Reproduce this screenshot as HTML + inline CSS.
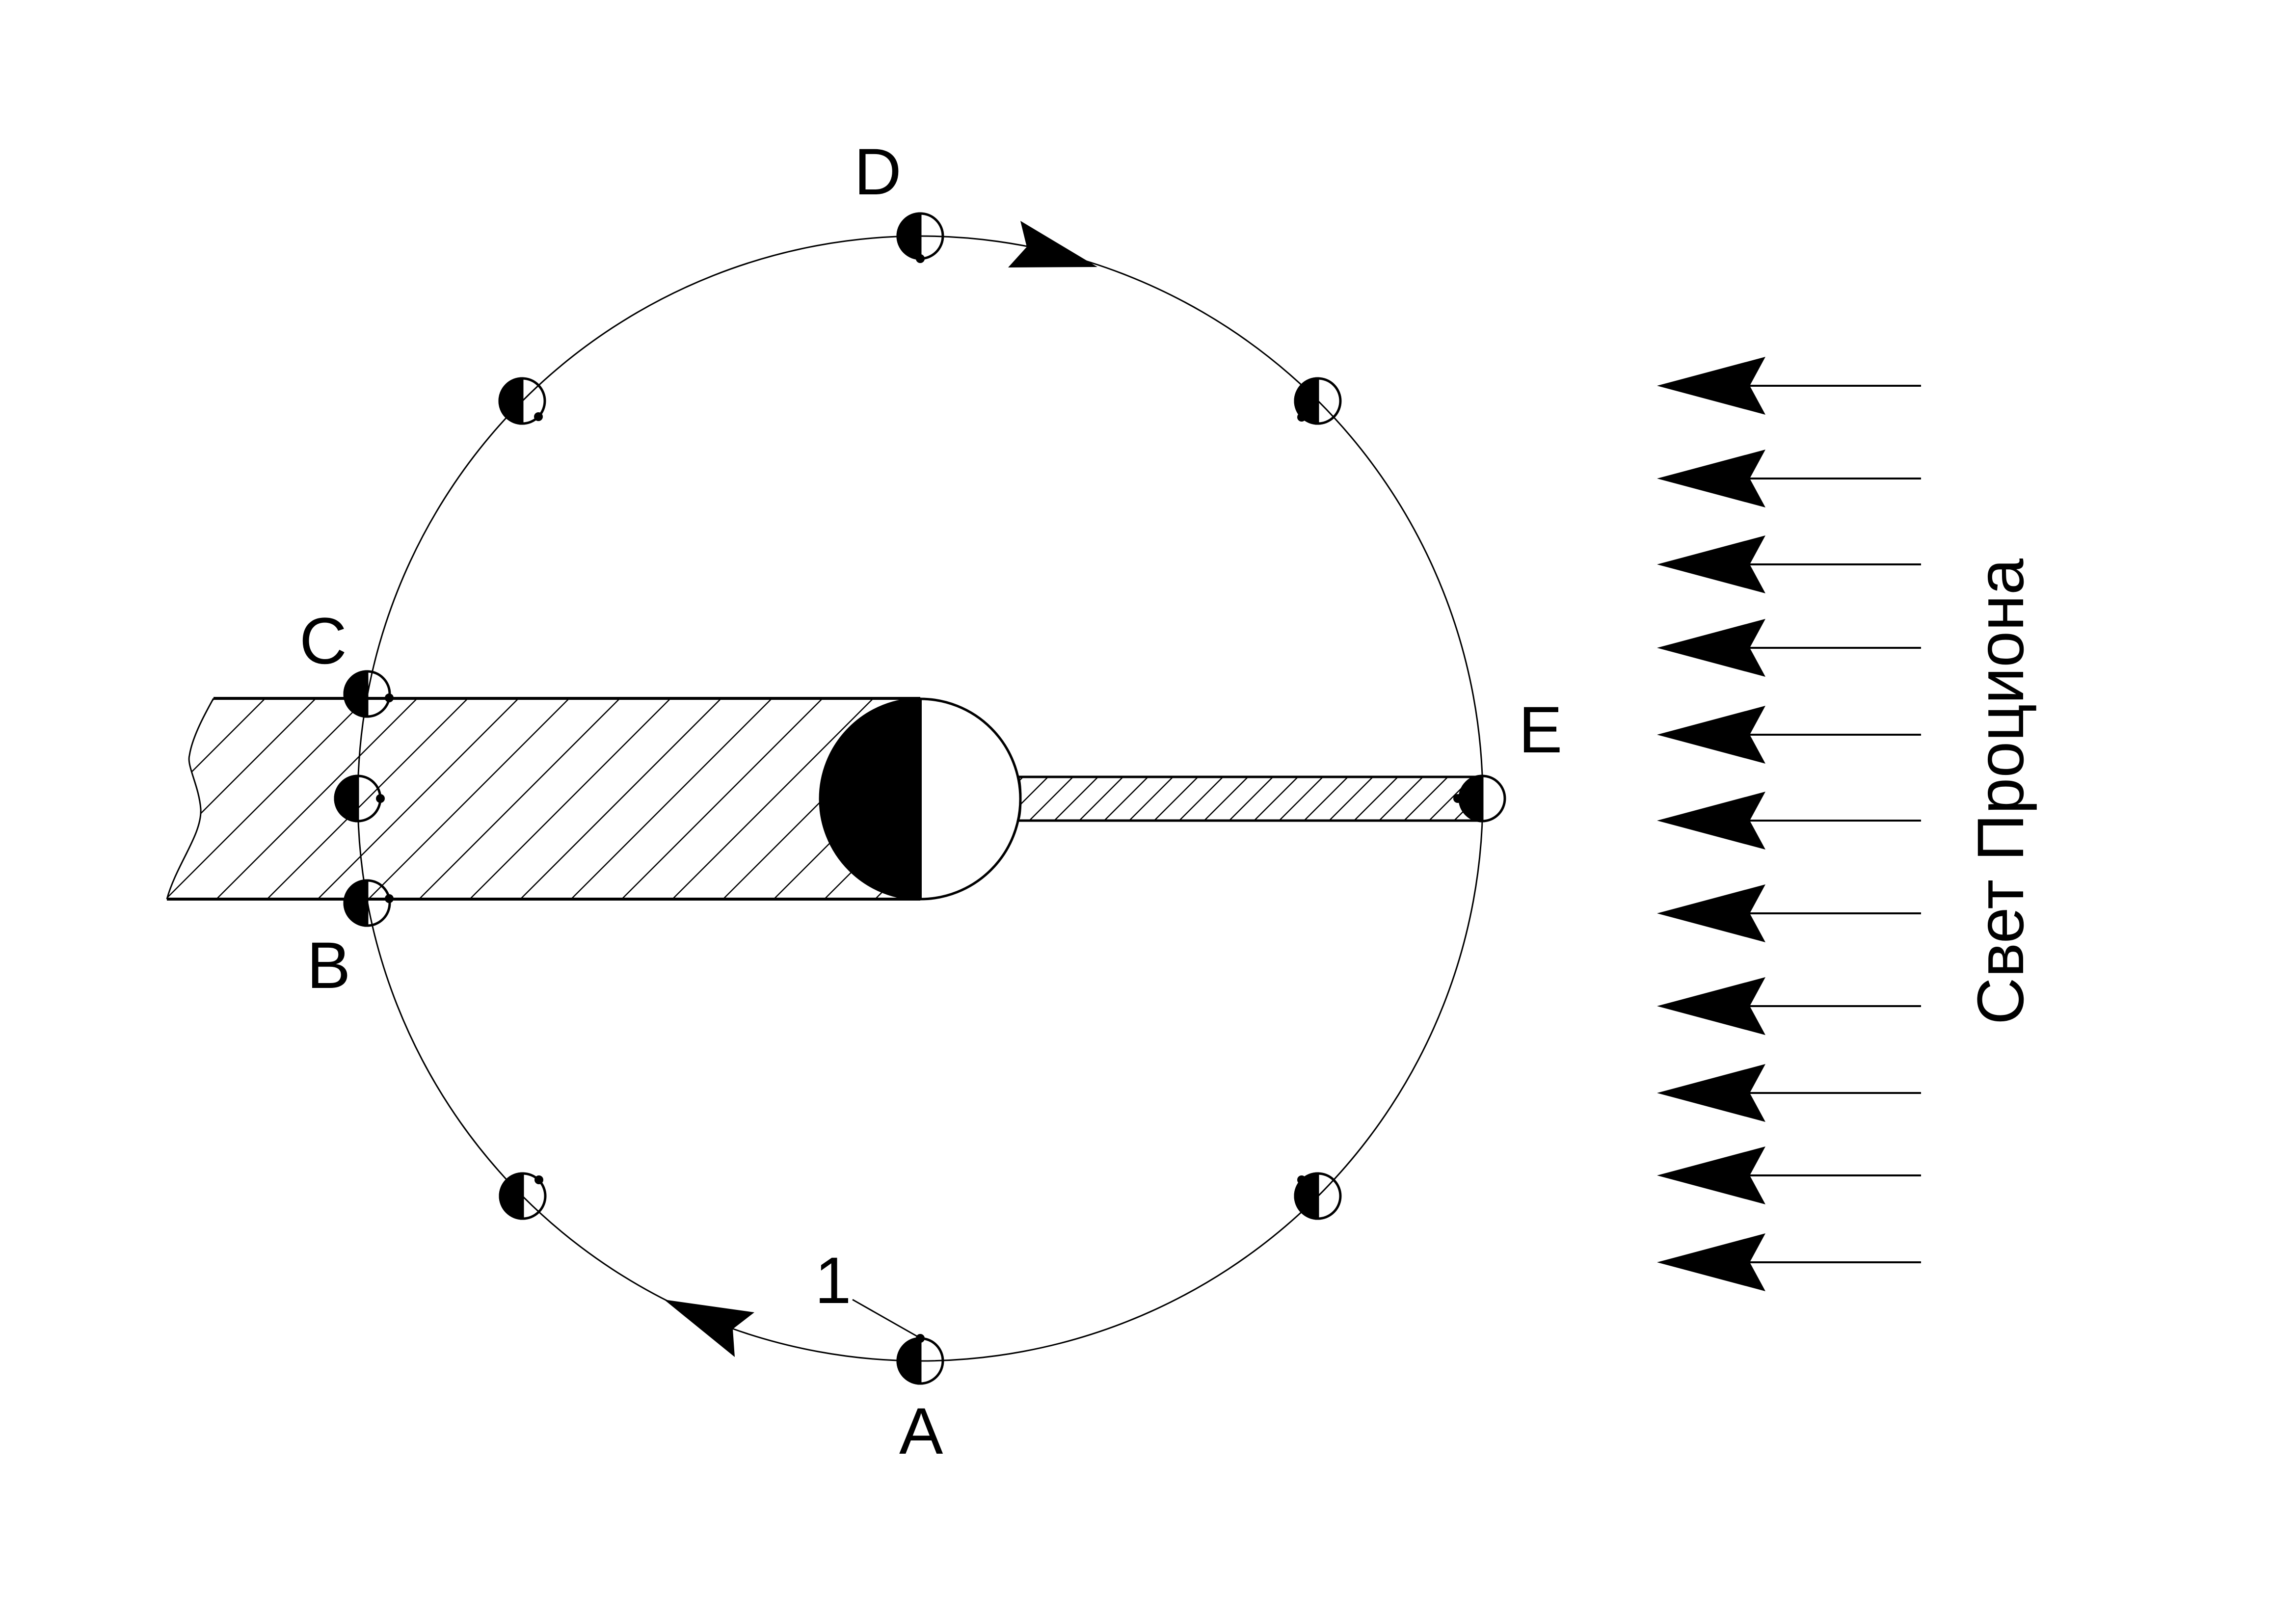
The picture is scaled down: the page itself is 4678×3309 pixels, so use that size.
<!DOCTYPE html>
<html><head><meta charset="utf-8"><style>html,body{margin:0;padding:0;background:#fff}svg{display:block}</style></head>
<body>
<svg width="4678" height="3309" viewBox="0 0 4678 3309" xmlns="http://www.w3.org/2000/svg">
<defs>
<pattern id="h1" patternUnits="userSpaceOnUse" width="73" height="73" patternTransform="rotate(45)">
<line x1="0" y1="0" x2="0" y2="73" stroke="#000" stroke-width="5"/>
</pattern>
<pattern id="h2" patternUnits="userSpaceOnUse" width="36" height="36" patternTransform="rotate(45)">
<line x1="0" y1="0" x2="0" y2="36" stroke="#000" stroke-width="5"/>
</pattern>
</defs>
<rect width="4678" height="3309" fill="#fff"/>
<path d="M435,1423 L1875,1423 L1875,1832 L340,1832 C360,1760 412,1700 409,1648 C405,1600 380,1560 386,1539 C392,1500 420,1450 435,1423 Z" fill="url(#h1)"/>
<path d="M435,1423 C420,1450 392,1500 386,1539 C380,1560 405,1600 409,1648 C412,1700 360,1760 340,1832" fill="none" stroke="#000" stroke-width="3"/>
<line x1="435" y1="1423" x2="1875" y2="1423" stroke="#000" stroke-width="6"/>
<line x1="340" y1="1832" x2="1875" y2="1832" stroke="#000" stroke-width="6"/>
<rect x="2072" y="1583" width="948" height="89" fill="url(#h2)"/>
<line x1="2072" y1="1583" x2="3020" y2="1583" stroke="#000" stroke-width="5"/>
<line x1="2072" y1="1672" x2="3020" y2="1672" stroke="#000" stroke-width="5"/>
<ellipse cx="2074" cy="1627" rx="6" ry="45" fill="none" stroke="#000" stroke-width="3"/>
<circle cx="1875" cy="1627" r="1146" fill="none" stroke="#000" stroke-width="3"/>
<circle cx="1875" cy="1628" r="204" fill="#fff" stroke="#000" stroke-width="5"/>
<path d="M1875,1424 A204,204 0 0 0 1875,1832 Z" fill="#000"/>
<line x1="1875" y1="1424" x2="1875" y2="1832" stroke="#000" stroke-width="6"/>
<g stroke="#000" stroke-width="5">
<g transform="translate(1875,481)"><circle r="46" fill="none"/><path d="M0,-46 A46,46 0 0 0 0,46 Z" fill="#000"/><circle cx="0" cy="46" r="9" fill="#000" stroke="none"/></g>
<g transform="translate(2685,817)"><circle r="46" fill="none"/><path d="M0,-46 A46,46 0 0 0 0,46 Z" fill="#000"/><circle cx="-33" cy="33" r="9" fill="#000" stroke="none"/></g>
<g transform="translate(3020,1627)"><circle r="46" fill="none"/><path d="M0,-46 A46,46 0 0 0 0,46 Z" fill="#000"/><circle cx="-50" cy="0" r="9" fill="#000" stroke="none"/></g>
<g transform="translate(2685,2437)"><circle r="46" fill="none"/><path d="M0,-46 A46,46 0 0 0 0,46 Z" fill="#000"/><circle cx="-33" cy="-33" r="9" fill="#000" stroke="none"/></g>
<g transform="translate(1875,2773)"><circle r="46" fill="none"/><path d="M0,-46 A46,46 0 0 0 0,46 Z" fill="#000"/><circle cx="0" cy="-46" r="9" fill="#000" stroke="none"/></g>
<g transform="translate(1065,2437)"><circle r="46" fill="none"/><path d="M0,-46 A46,46 0 0 0 0,46 Z" fill="#000"/><circle cx="33" cy="-33" r="9" fill="#000" stroke="none"/></g>
<g transform="translate(1064,817)"><circle r="46" fill="none"/><path d="M0,-46 A46,46 0 0 0 0,46 Z" fill="#000"/><circle cx="33" cy="32" r="9" fill="#000" stroke="none"/></g>
<g transform="translate(748,1414)"><circle r="46" fill="none"/><path d="M0,-46 A46,46 0 0 0 0,46 Z" fill="#000"/><circle cx="45" cy="8" r="9" fill="#000" stroke="none"/></g>
<g transform="translate(729,1627)"><circle r="46" fill="none"/><path d="M0,-46 A46,46 0 0 0 0,46 Z" fill="#000"/><circle cx="46" cy="0" r="9" fill="#000" stroke="none"/></g>
<g transform="translate(748,1840)"><circle r="46" fill="none"/><path d="M0,-46 A46,46 0 0 0 0,46 Z" fill="#000"/><circle cx="45" cy="-9" r="9" fill="#000" stroke="none"/></g>
</g>
<polygon points="2236,544 2079,450 2092,503 2054,545" fill="#000"/>
<polygon points="1353,2648 1537,2674 1493,2708 1497,2765" fill="#000"/>
<line x1="1737" y1="2648" x2="1876" y2="2727" stroke="#000" stroke-width="3"/>
<g fill="#000" stroke="#000" stroke-width="4">
<g transform="translate(0,786)"><polygon points="3376,0 3597,-59 3565,0 3597,59" stroke="none"/><line x1="3565" y1="0" x2="3914" y2="0"/></g>
<g transform="translate(0,975)"><polygon points="3376,0 3597,-59 3565,0 3597,59" stroke="none"/><line x1="3565" y1="0" x2="3914" y2="0"/></g>
<g transform="translate(0,1150)"><polygon points="3376,0 3597,-59 3565,0 3597,59" stroke="none"/><line x1="3565" y1="0" x2="3914" y2="0"/></g>
<g transform="translate(0,1320)"><polygon points="3376,0 3597,-59 3565,0 3597,59" stroke="none"/><line x1="3565" y1="0" x2="3914" y2="0"/></g>
<g transform="translate(0,1497)"><polygon points="3376,0 3597,-59 3565,0 3597,59" stroke="none"/><line x1="3565" y1="0" x2="3914" y2="0"/></g>
<g transform="translate(0,1672)"><polygon points="3376,0 3597,-59 3565,0 3597,59" stroke="none"/><line x1="3565" y1="0" x2="3914" y2="0"/></g>
<g transform="translate(0,1861)"><polygon points="3376,0 3597,-59 3565,0 3597,59" stroke="none"/><line x1="3565" y1="0" x2="3914" y2="0"/></g>
<g transform="translate(0,2050)"><polygon points="3376,0 3597,-59 3565,0 3597,59" stroke="none"/><line x1="3565" y1="0" x2="3914" y2="0"/></g>
<g transform="translate(0,2227)"><polygon points="3376,0 3597,-59 3565,0 3597,59" stroke="none"/><line x1="3565" y1="0" x2="3914" y2="0"/></g>
<g transform="translate(0,2395)"><polygon points="3376,0 3597,-59 3565,0 3597,59" stroke="none"/><line x1="3565" y1="0" x2="3914" y2="0"/></g>
<g transform="translate(0,2572)"><polygon points="3376,0 3597,-59 3565,0 3597,59" stroke="none"/><line x1="3565" y1="0" x2="3914" y2="0"/></g>
</g>
<g font-family="Liberation Sans, Arial, sans-serif" font-size="134" fill="#000">
<text x="1740" y="396">D</text>
<text x="610" y="1352">C</text>
<text x="625" y="2013">B</text>
<text x="3094" y="1533">E</text>
<text x="1832" y="2962">A</text>
<text x="1660" y="2655">1</text>
<text transform="translate(4122,2088) rotate(-90)" textLength="950" lengthAdjust="spacingAndGlyphs">Свет Проциона</text>
</g>
</svg>
</body></html>
